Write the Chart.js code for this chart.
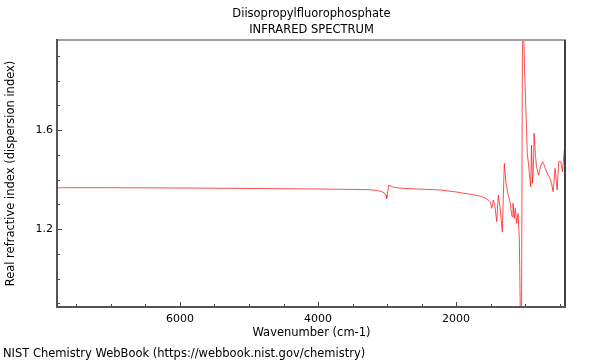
<!DOCTYPE html>
<html>
<head>
<meta charset="utf-8">
<script src="https://cdn.jsdelivr.net/npm/chart.js@4.4.1/dist/chart.umd.min.js"></script>
<style>
  html, body { margin: 0; padding: 0; background: #fff; }
  #wrap { width: 600px; height: 360px; }
</style>
</head>
<body>
<div id="wrap"><canvas id="irChart" width="600" height="360"></canvas></div>
<script>
/* ---- labels ---- */
const TITLE_LINES = ['Diisopropylfluorophosphate', 'INFRARED SPECTRUM'];
const X_TITLE = 'Wavenumber (cm-1)';
const Y_TITLE = 'Real refractive index (dispersion index)';
const FOOTER = 'NIST Chemistry WebBook (https://webbook.nist.gov/chemistry)';

/* ---- ticks ---- */
const X_LABEL_TICKS = [2000, 4000, 6000];
const X_MINOR_TICKS = [500, 1000, 1500, 2500, 3000, 3500, 4500, 5000, 5500, 6500, 7000, 7500];
const Y_LABEL_TICKS = [1.2, 1.6];
const Y_MINOR_TICKS = [0.9, 1.0, 1.1, 1.3, 1.4, 1.5, 1.7, 1.8, 1.9];

/* ---- spectrum ---- */
const WAVENUMBER = [
  7782, 7000, 6000, 5000, 4000, 3500, 3250, 3150, 3080, 3040, 3015, 3005, 2995, 2975,
  2960, 2945, 2925, 2880, 2800, 2500, 2232, 2000, 1942, 1800, 1700, 1652, 1600, 1556,
  1520, 1500, 1483, 1470, 1460, 1436, 1411, 1388, 1363, 1330, 1301, 1276, 1243, 1218,
  1189, 1175, 1156, 1142, 1121, 1102, 1083, 1066, 1052, 1037, 1025, 1008, 990, 967,
  953, 930, 918, 907, 892, 880, 869, 850, 834, 805, 776, 747, 735, 724, 700, 666,
  640, 617, 594, 565, 536, 512, 483, 458, 429, 407
];
const REFRACTIVE = [
  1.367, 1.367, 1.366, 1.364, 1.362, 1.360, 1.359, 1.356, 1.352, 1.346, 1.336, 1.324, 1.340, 1.378,
  1.373, 1.376, 1.370, 1.368, 1.365, 1.361, 1.358, 1.350, 1.347, 1.341, 1.336, 1.333, 1.328, 1.322,
  1.314, 1.308, 1.284, 1.300, 1.317, 1.290, 1.230, 1.337, 1.290, 1.189, 1.465, 1.385, 1.337, 1.310,
  1.250, 1.304, 1.243, 1.284, 1.223, 1.263, 1.156, 0.800, 0.800, 2.050, 2.050, 1.850, 1.700, 1.500,
  1.470, 1.400, 1.371, 1.539, 1.385, 1.450, 1.587, 1.500, 1.452, 1.418, 1.452, 1.472, 1.465, 1.459, 1.440, 1.418,
  1.405, 1.385, 1.351, 1.445, 1.358, 1.472, 1.472, 1.432, 1.526, 1.520
];

const FONT = 'DejaVu Sans';
const TEXT_SIZE = 11.5;

/* ---- frame, inner ticks, title and footer ---- */
const framePlugin = {
  id: 'frame',
  afterDraw(chart) {
    const { ctx, chartArea: a, scales: { x, y } } = chart;
    ctx.save();

    // inner ticks
    ctx.strokeStyle = '#444';
    ctx.lineWidth = 1;
    ctx.beginPath();
    X_LABEL_TICKS.concat(X_MINOR_TICKS).forEach(v => {
      const px = Math.round(x.getPixelForValue(v)) + 0.5;
      const len = X_LABEL_TICKS.includes(v) ? 5 : 3;
      ctx.moveTo(px, a.bottom); ctx.lineTo(px, a.bottom - len);
    });
    Y_LABEL_TICKS.concat(Y_MINOR_TICKS).forEach(v => {
      const py = Math.round(y.getPixelForValue(v)) + 0.5;
      const len = Y_LABEL_TICKS.includes(v) ? 5 : 3;
      ctx.moveTo(a.left, py); ctx.lineTo(a.left + len, py);
    });
    ctx.stroke();

    // frame
    ctx.fillStyle = '#a0a0a0';
    ctx.fillRect(a.left, a.top - 1, a.right - a.left, 2);
    ctx.fillStyle = '#404040';
    ctx.fillRect(a.right - 2, a.top, 2, a.bottom - a.top + 1);
    ctx.fillStyle = '#555';
    ctx.fillRect(a.left - 1, a.top - 1, 2, a.bottom - a.top + 2);
    ctx.fillRect(a.left - 1, a.bottom - 1, a.right - a.left + 1, 2);

    // title + footer
    ctx.fillStyle = '#000';
    ctx.font = `${TEXT_SIZE}px "${FONT}"`;
    ctx.textAlign = 'center';
    ctx.textBaseline = 'alphabetic';
    const cx = (a.left + a.right) / 2;
    ctx.fillText(TITLE_LINES[0], cx, 17);
    ctx.fillText(TITLE_LINES[1], cx, 33);
    ctx.textAlign = 'left';
    ctx.fillText(FOOTER, 3, 356.5);
    ctx.restore();
  }
};

new Chart(document.getElementById('irChart'), {
  type: 'line',
  data: {
    datasets: [{
      data: WAVENUMBER.map((w, i) => ({ x: w, y: REFRACTIVE[i] })),
      borderColor: 'rgba(255,20,20,0.75)',
      borderWidth: 1,
      pointRadius: 0,
      tension: 0,
      fill: false
    }]
  },
  options: {
    responsive: false, animation: false,
    layout: { padding: { top: 40, right: 34, left: 0, bottom: 0 } },
    plugins: { legend: { display: false }, tooltip: { enabled: false } },
    scales: {
      x: {
        type: 'linear', reverse: true, min: 407, max: 7782,
        afterFit: s => { s.height = 53; },
        afterBuildTicks: s => { s.ticks = X_LABEL_TICKS.map(v => ({ value: v })); },
        ticks: { font: { family: FONT, size: 11 }, color: '#000', padding: 6, maxRotation: 0, autoSkip: false, callback: v => String(v) },
        grid: { display: false, drawTicks: false },
        border: { display: false },
        title: { display: true, text: X_TITLE, color: '#000', font: { family: FONT, size: TEXT_SIZE }, padding: { top: 0, bottom: 20 } }
      },
      y: {
        type: 'linear', min: 0.885, max: 1.964,
        afterFit: s => { s.width = 57; },
        afterBuildTicks: s => { s.ticks = Y_LABEL_TICKS.map(v => ({ value: v })); },
        ticks: { font: { family: FONT, size: 11 }, color: '#000', padding: 4, callback: v => v.toFixed(1) },
        grid: { display: false, drawTicks: false },
        border: { display: false },
        title: { display: true, text: Y_TITLE, color: '#000', font: { family: FONT, size: TEXT_SIZE }, padding: { top: 4, bottom: 0 } }
      }
    }
  },
  plugins: [framePlugin]
});
</script>
</body>
</html>
